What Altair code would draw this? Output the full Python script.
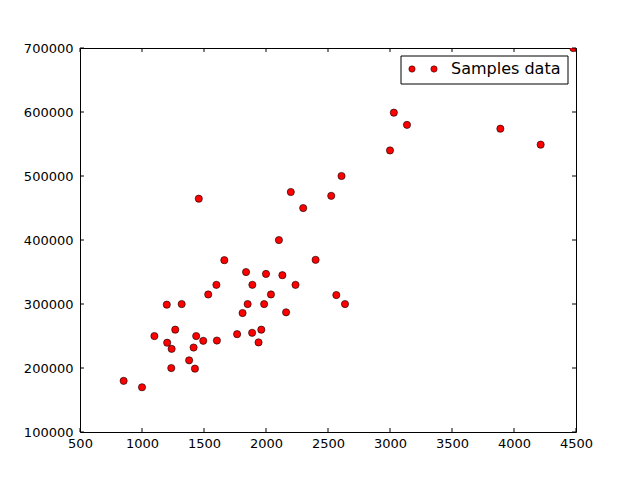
import altair as alt
import pandas as pd

size_sqft = [2104, 1600, 2400, 1416, 3000, 1985, 1534, 1427, 1380, 1494, 1940, 2000,
             1890, 4478, 1268, 2300, 1320, 1236, 2609, 3031, 1767, 1888, 1604, 1962,
             3890, 1100, 1458, 2526, 2200, 2637, 1839, 1000, 2040, 3137, 1811, 1437,
             1239, 2132, 4215, 2162, 1664, 2238, 2567, 1200, 852, 1852, 1203]
price = [399900, 329900, 369000, 232000, 539900, 299900, 314900, 198999, 212000,
         242500, 239999, 347000, 329999, 699900, 259900, 449900, 299900, 199900,
         499998, 599000, 252900, 255000, 242900, 259900, 573900, 249900, 464500,
         469000, 475000, 299900, 349900, 169900, 314900, 579900, 285900, 249900,
         229900, 345000, 549000, 287000, 368500, 329900, 314000, 299000, 179900,
         299900, 239500]
x_ticks = [500, 1000, 1500, 2000, 2500, 3000, 3500, 4000, 4500]
y_ticks = [100000, 200000, 300000, 400000, 500000, 600000, 700000]
legend_label = "Samples data"

W, H = 496, 384
FONT = "DejaVu Sans"

df = pd.DataFrame({"x": size_sqft, "y": price})
xt = pd.DataFrame({"x": x_ticks})
yt = pd.DataFrame({"y": y_ticks})
one = pd.DataFrame({"a": [0]})

xscale = alt.Scale(domain=[500, 4500], nice=False, zero=False)
yscale = alt.Scale(domain=[100000, 700000], nice=False, zero=False)

xaxis = alt.Axis(values=x_ticks, title=None, grid=False, domain=False, ticks=False,
                 labelFont=FONT, labelFontSize=13, labelColor="black", labelPadding=5,
                 format="d", labelFlush=False, labelOverlap=False)
yaxis = alt.Axis(values=y_ticks, title=None, grid=False, domain=False, ticks=False,
                 labelFont=FONT, labelFontSize=13, labelColor="black", labelPadding=7,
                 format="d", labelFlush=False, labelOverlap=False)

points = alt.Chart(df).mark_point(
    filled=True, shape="circle", size=52, color="#ff0000", stroke="black",
    strokeWidth=0.6, opacity=1, clip=True
).encode(
    x=alt.X("x:Q", scale=xscale, axis=xaxis),
    y=alt.Y("y:Q", scale=yscale, axis=yaxis),
)

tl = 4
xtick_b = alt.Chart(xt).mark_rule(color="black", strokeWidth=1).encode(
    x=alt.X("x:Q", scale=xscale), y=alt.value(H), y2=alt.value(H - tl))
xtick_t = alt.Chart(xt).mark_rule(color="black", strokeWidth=1).encode(
    x=alt.X("x:Q", scale=xscale), y=alt.value(0), y2=alt.value(tl))
ytick_l = alt.Chart(yt).mark_rule(color="black", strokeWidth=1).encode(
    y=alt.Y("y:Q", scale=yscale), x=alt.value(0), x2=alt.value(tl))
ytick_r = alt.Chart(yt).mark_rule(color="black", strokeWidth=1).encode(
    y=alt.Y("y:Q", scale=yscale), x=alt.value(W), x2=alt.value(W - tl))

leg_box = alt.Chart(one).mark_rect(fill="white", stroke="black", strokeWidth=1).encode(
    x=alt.value(321), x2=alt.value(488), y=alt.value(8), y2=alt.value(36))
leg_pts = alt.Chart(pd.DataFrame({"p": [332, 354]})).mark_point(
    filled=True, shape="circle", size=40, color="#ff0000", stroke="black",
    strokeWidth=0.5, opacity=1
).encode(x=alt.X("p:Q", scale=None), y=alt.value(21))
leg_txt = alt.Chart(one).mark_text(
    text=legend_label, font=FONT, fontSize=16, align="left", baseline="middle", color="black"
).encode(x=alt.value(371), y=alt.value(21))

chart = alt.layer(
    points, xtick_b, xtick_t, ytick_l, ytick_r, leg_box, leg_pts, leg_txt
).properties(
    width=W, height=H,
    autosize=alt.AutoSizeParams(type="none"),
    padding={"left": 72, "top": 40, "right": 48, "bottom": 40},
    background="white",
).configure_view(stroke="black", strokeWidth=1)

chart.save("out.html", embed_options={"renderer": "svg", "actions": False})
